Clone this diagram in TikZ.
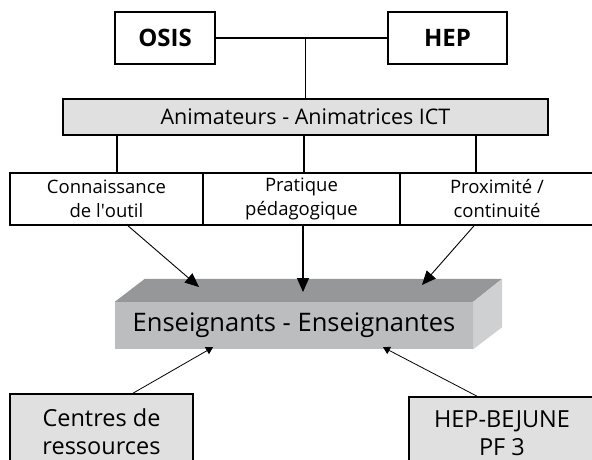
\documentclass[tikz,border=0pt]{standalone}
\usepackage{fontspec}
\setmainfont{Open Sans}
\usepackage{xcolor}
\usetikzlibrary{positioning,arrows.meta}

\definecolor{boxgray}{RGB}{224,224,225}
\definecolor{topgray}{RGB}{150,151,153}
\definecolor{frontgray}{RGB}{188,189,191}
\definecolor{sidegray}{RGB}{207,208,210}

\begin{document}
\begin{tikzpicture}[
  x=1pt, y=-1pt,
  inst/.style={rectangle, draw, line width=1.6pt, inner sep=0pt, font=\fontsize{24}{28}\selectfont\bfseries, minimum width=100pt, minimum height=52pt},
  anim/.style={rectangle, draw, line width=1.6pt, fill=boxgray, inner sep=0pt, font=\fontsize{21.5}{26}\selectfont, minimum width=485pt, minimum height=36pt},
  axe/.style={rectangle, draw, line width=1.6pt, inner sep=0pt, align=center, font=\fontsize{18.5}{24}\selectfont, minimum width=193pt, minimum height=52pt},
  front/.style={rectangle, fill=frontgray, inner sep=0pt, font=\fontsize{25.5}{30}\selectfont, minimum width=358pt, minimum height=47pt},
  resource/.style={rectangle, draw, line width=1.6pt, fill=boxgray, inner sep=0pt, align=center, font=\fontsize{23.5}{28}\selectfont, minimum width=183pt, minimum height=76pt},
  link/.style={line width=1.4pt},
  down/.style={-{Triangle[length=14pt,width=12pt]}, line width=0.9pt},
  up/.style={-{Triangle[length=7pt,width=8pt]}, line width=0.8pt}
]
  \useasboundingbox (0,0) rectangle (592,460);

  % Institutions
  \node[inst] (osis) at (165,38) {OSIS};
  \node[inst, minimum width=119pt] (hep) at (447.5,38) {HEP};

  % Animateurs
  \node[anim] (anim) at (305.5,117) {Animateurs - Animatrices ICT};

  % Three axes
  \node[axe] (conn) at (106.5,199) {Connaissance\\de l\textquotesingle outil};
  \node[axe, minimum width=197pt] (prat) at (301.5,199) {Pratique\\pédagogique};
  \node[axe, minimum width=194pt] (prox) at (497,199) {Proximité /\\continuité};

  % Enseignants (3D block)
  \node[front] (ens) at (294,325.5) {Enseignants - Enseignantes};
  \fill[topgray] (ens.north west) -- ([shift={(30,-23)}]ens.north west)
    -- ([shift={(29,-23)}]ens.north east) -- (ens.north east) -- cycle;
  \fill[sidegray] (ens.north east) -- ([shift={(29,-23)}]ens.north east)
    -- ([shift={(29,-22)}]ens.south east) -- (ens.south east) -- cycle;

  % Resources
  \node[resource] (centres) at (101.5,432) {Centres de\\ressources};
  \node[resource, minimum width=186pt, minimum height=73pt] (hepb) at (502,433.5) {HEP-BEJUNE\\PF 3};

  % Links on top
  \draw[link] (osis) -- (hep);
  \draw[link] (anim.north) -- (anim.north |- osis.east);
  \coordinate (c1) at ([xshift=10.5pt]conn.north);
  \coordinate (c2) at ([xshift=2.5pt]prat.north);
  \coordinate (c3) at ([xshift=-21pt]prox.north);
  \draw[link] (c1) -- (c1 |- anim.south);
  \draw[link] (c2) -- (c2 |- anim.south);
  \draw[link] (c3) -- (c3 |- anim.south);

  % Arrows to the block
  \coordinate (tipL) at (199,287);
  \coordinate (tipM) at (303,292);
  \coordinate (tipR) at (422,285);
  \draw[down] ([xshift=21.5pt]conn.south) -- (tipL);
  \draw[down, line width=1.2pt] ([xshift=1.5pt]prat.south) -- (tipM);
  \draw[down] ([xshift=-23pt]prox.south) -- (tipR);

  \draw[up] ([xshift=31.5pt]centres.north) -- ([xshift=-81pt,yshift=2pt]ens.south);
  \draw[up] ([xshift=-25pt]hepb.north) -- ([xshift=89pt,yshift=2pt]ens.south);
\end{tikzpicture}
\end{document}
